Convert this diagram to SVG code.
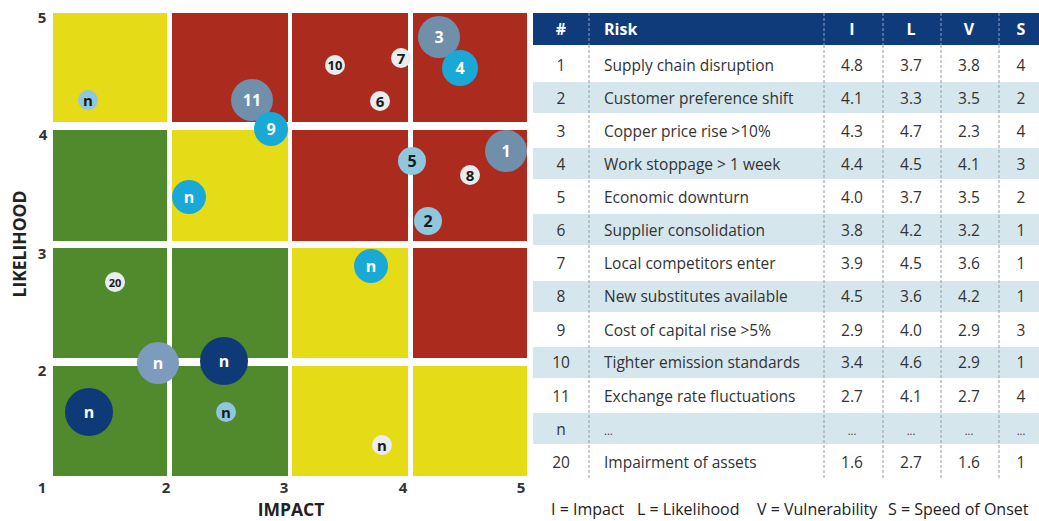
<svg xmlns="http://www.w3.org/2000/svg" width="1039" height="521" viewBox="0 0 1039 521">
<style>
.y{fill:#e6db17}.r{fill:#ab2b1f}.g{fill:#508a2c}
.ax{font-family:"Open Sans","Liberation Sans",sans-serif;font-size:15px;font-weight:bold;fill:#333;text-anchor:middle}
.at{font-family:"Open Sans","Liberation Sans",sans-serif;font-size:17.5px;font-weight:bold;fill:#222;text-anchor:middle}
.bl{font-family:"Open Sans","Liberation Sans",sans-serif;font-weight:bold;text-anchor:middle;dominant-baseline:central}
.big{font-size:16px;fill:#fff}
.sm{font-size:15px;fill:#1a1a1a}
.cy{fill:#19a9d6}.gb{fill:#6f8faa}.lb{fill:#8fc7df}.wh{fill:#e9edef}.nv{fill:#0e3a78}.sb{fill:#7d9cbd}
.t{font-family:"Open Sans","Liberation Sans",sans-serif;font-size:15.5px;fill:#333}
.c{text-anchor:middle}
.h{font-family:"Open Sans","Liberation Sans",sans-serif;font-size:16px;font-weight:bold;fill:#fff}
.sh{fill:#d5e6ec}
.dl{stroke:#9a9a9a;stroke-width:1;stroke-dasharray:3,2}
.dh{stroke:#8fa3c4;stroke-width:1;stroke-dasharray:3,2}
</style>
<rect width="1039" height="521" fill="#fff"/>
<g id="matrix">
<rect class="y" x="53" y="13" width="114" height="109"/>
<rect class="r" x="172" y="13" width="116" height="109"/>
<rect class="r" x="292" y="13" width="116" height="109"/>
<rect class="r" x="413" y="13" width="114" height="109"/>
<rect class="g" x="53" y="130" width="114" height="111"/>
<rect class="y" x="172" y="130" width="116" height="111"/>
<rect class="r" x="292" y="130" width="116" height="111"/>
<rect class="r" x="413" y="130" width="114" height="111"/>
<rect class="g" x="53" y="248" width="114" height="110"/>
<rect class="g" x="172" y="248" width="116" height="110"/>
<rect class="y" x="292" y="248" width="116" height="110"/>
<rect class="r" x="413" y="248" width="114" height="110"/>
<rect class="g" x="53" y="366" width="114" height="110"/>
<rect class="g" x="172" y="366" width="116" height="110"/>
<rect class="y" x="292" y="366" width="116" height="110"/>
<rect class="y" x="413" y="366" width="114" height="110"/>
</g>
<g id="axes">
<text class="ax" x="42" y="23">5</text>
<text class="ax" x="43" y="140">4</text>
<text class="ax" x="42" y="259">3</text>
<text class="ax" x="42" y="376">2</text>
<text class="ax" x="42" y="493">1</text>
<text class="ax" x="166" y="493">2</text>
<text class="ax" x="284" y="493">3</text>
<text class="ax" x="403" y="493">4</text>
<text class="ax" x="521" y="493">5</text>
<text class="at" x="291" y="516">IMPACT</text>
<text class="at" transform="translate(26,244) rotate(-90)">LIKELIHOOD</text>
</g>
<g id="bubbles">
<g id="b-n1"><circle class="lb" cx="88" cy="100" r="10"/><text class="bl sm" x="88" y="100">n</text></g>
<g id="b-11"><circle class="gb" cx="252" cy="100" r="21"/><text class="bl big" x="252" y="100">11</text></g>
<g id="b-9"><circle class="cy" cx="271" cy="129" r="17"/><text class="bl big" x="271" y="129">9</text></g>
<g id="b-n2"><circle class="cy" cx="189" cy="197" r="17"/><text class="bl big" x="189" y="197">n</text></g>
<g id="b-10"><circle class="wh" cx="335" cy="65" r="10"/><text class="bl sm" style="font-size:13px" x="335" y="65">10</text></g>
<g id="b-7"><circle class="wh" cx="401" cy="58" r="10"/><text class="bl sm" x="401" y="58">7</text></g>
<g id="b-6"><circle class="wh" cx="380" cy="101" r="10"/><text class="bl sm" x="380" y="101">6</text></g>
<g id="b-3"><circle class="gb" cx="439" cy="37" r="21"/><text class="bl big" x="439" y="37">3</text></g>
<g id="b-4"><circle class="cy" cx="460" cy="68" r="18"/><text class="bl big" x="460" y="68">4</text></g>
<g id="b-5"><circle class="lb" cx="412" cy="161" r="14"/><text class="bl big" style="fill:#1a1a1a" x="412" y="161">5</text></g>
<g id="b-1"><circle class="gb" cx="506" cy="151" r="21"/><text class="bl big" x="506" y="151">1</text></g>
<g id="b-8"><circle class="wh" cx="470" cy="175" r="10"/><text class="bl sm" x="470" y="175">8</text></g>
<g id="b-2"><circle class="lb" cx="428" cy="221" r="14"/><text class="bl big" style="fill:#1a1a1a" x="428" y="221">2</text></g>
<g id="b-n3"><circle class="cy" cx="371" cy="266" r="17"/><text class="bl big" x="371" y="266">n</text></g>
<g id="b-20"><circle class="wh" cx="115" cy="282" r="10"/><text class="bl sm" style="font-size:11px" x="115" y="282">20</text></g>
<g id="b-n4"><circle class="sb" cx="158" cy="363" r="21"/><text class="bl big" x="158" y="363">n</text></g>
<g id="b-n5"><circle class="nv" cx="224" cy="361" r="24"/><text class="bl big" x="224" y="361">n</text></g>
<g id="b-n6"><circle class="nv" cx="89" cy="412" r="24"/><text class="bl big" x="89" y="412">n</text></g>
<g id="b-n7"><circle class="lb" cx="226" cy="412" r="10"/><text class="bl sm" x="226" y="412">n</text></g>
<g id="b-n8"><circle class="wh" cx="382" cy="445" r="10"/><text class="bl sm" x="382" y="445">n</text></g>
</g>
<g id="table">
<rect x="533" y="13" width="506" height="32" fill="#0f3b7b"/>
<rect class="sh" x="533" y="82" width="506" height="31"/>
<rect class="sh" x="533" y="148" width="506" height="31"/>
<rect class="sh" x="533" y="214" width="506" height="31"/>
<rect class="sh" x="533" y="281" width="506" height="31"/>
<rect class="sh" x="533" y="347" width="506" height="31"/>
<rect class="sh" x="533" y="413" width="506" height="31"/>
<g>
<line class="dh" x1="589" y1="13" x2="589" y2="45"/><line class="dh" x1="824" y1="13" x2="824" y2="45"/><line class="dh" x1="883" y1="13" x2="883" y2="45"/><line class="dh" x1="941" y1="13" x2="941" y2="45"/><line class="dh" x1="999" y1="13" x2="999" y2="45"/>
<line class="dl" x1="589" y1="45" x2="589" y2="478"/><line class="dl" x1="824" y1="45" x2="824" y2="478"/><line class="dl" x1="883" y1="45" x2="883" y2="478"/><line class="dl" x1="941" y1="45" x2="941" y2="478"/><line class="dl" x1="999" y1="45" x2="999" y2="478"/>
</g>
<g class="h"><text class="c" x="561" y="35">#</text><text x="604" y="35">Risk</text><text class="c" x="852" y="35">I</text><text class="c" x="911" y="35">L</text><text class="c" x="969" y="35">V</text><text class="c" x="1021" y="35">S</text></g>
<g class="t">
<text class="c" x="561" y="71">1</text><text x="604" y="71">Supply chain disruption</text><text class="c" x="852" y="71">4.8</text><text class="c" x="911" y="71">3.7</text><text class="c" x="969" y="71">3.8</text><text class="c" x="1021" y="71">4</text>
<text class="c" x="561" y="104">2</text><text x="604" y="104">Customer preference shift</text><text class="c" x="852" y="104">4.1</text><text class="c" x="911" y="104">3.3</text><text class="c" x="969" y="104">3.5</text><text class="c" x="1021" y="104">2</text>
<text class="c" x="561" y="137">3</text><text x="604" y="137">Copper price rise &gt;10%</text><text class="c" x="852" y="137">4.3</text><text class="c" x="911" y="137">4.7</text><text class="c" x="969" y="137">2.3</text><text class="c" x="1021" y="137">4</text>
<text class="c" x="561" y="170">4</text><text x="604" y="170">Work stoppage &gt; 1 week</text><text class="c" x="852" y="170">4.4</text><text class="c" x="911" y="170">4.5</text><text class="c" x="969" y="170">4.1</text><text class="c" x="1021" y="170">3</text>
<text class="c" x="561" y="203">5</text><text x="604" y="203">Economic downturn</text><text class="c" x="852" y="203">4.0</text><text class="c" x="911" y="203">3.7</text><text class="c" x="969" y="203">3.5</text><text class="c" x="1021" y="203">2</text>
<text class="c" x="561" y="236">6</text><text x="604" y="236">Supplier consolidation</text><text class="c" x="852" y="236">3.8</text><text class="c" x="911" y="236">4.2</text><text class="c" x="969" y="236">3.2</text><text class="c" x="1021" y="236">1</text>
<text class="c" x="561" y="269">7</text><text x="604" y="269">Local competitors enter</text><text class="c" x="852" y="269">3.9</text><text class="c" x="911" y="269">4.5</text><text class="c" x="969" y="269">3.6</text><text class="c" x="1021" y="269">1</text>
<text class="c" x="561" y="302">8</text><text x="604" y="302">New substitutes available</text><text class="c" x="852" y="302">4.5</text><text class="c" x="911" y="302">3.6</text><text class="c" x="969" y="302">4.2</text><text class="c" x="1021" y="302">1</text>
<text class="c" x="561" y="336">9</text><text x="604" y="336">Cost of capital rise &gt;5%</text><text class="c" x="852" y="336">2.9</text><text class="c" x="911" y="336">4.0</text><text class="c" x="969" y="336">2.9</text><text class="c" x="1021" y="336">3</text>
<text class="c" x="561" y="368">10</text><text x="604" y="368">Tighter emission standards</text><text class="c" x="852" y="368">3.4</text><text class="c" x="911" y="368">4.6</text><text class="c" x="969" y="368">2.9</text><text class="c" x="1021" y="368">1</text>
<text class="c" x="561" y="402">11</text><text x="604" y="402">Exchange rate fluctuations</text><text class="c" x="852" y="402">2.7</text><text class="c" x="911" y="402">4.1</text><text class="c" x="969" y="402">2.7</text><text class="c" x="1021" y="402">4</text>
<text class="c" x="561" y="435">n</text><text x="604" y="435" style="font-size:11px">...</text><text class="c" x="852" y="435" style="font-size:11px">...</text><text class="c" x="911" y="435" style="font-size:11px">...</text><text class="c" x="969" y="435" style="font-size:11px">...</text><text class="c" x="1021" y="435" style="font-size:11px">...</text>
<text class="c" x="561" y="468">20</text><text x="604" y="468">Impairment of assets</text><text class="c" x="852" y="468">1.6</text><text class="c" x="911" y="468">2.7</text><text class="c" x="969" y="468">1.6</text><text class="c" x="1021" y="468">1</text>
</g>
</g>
<g id="legend" class="t" style="fill:#222;font-size:16px">
<text x="551" y="515">I = Impact</text>
<text x="637" y="515">L = Likelihood</text>
<text x="757" y="515">V = Vulnerability</text>
<text x="888" y="515">S = Speed of Onset</text>
</g>
</svg>
